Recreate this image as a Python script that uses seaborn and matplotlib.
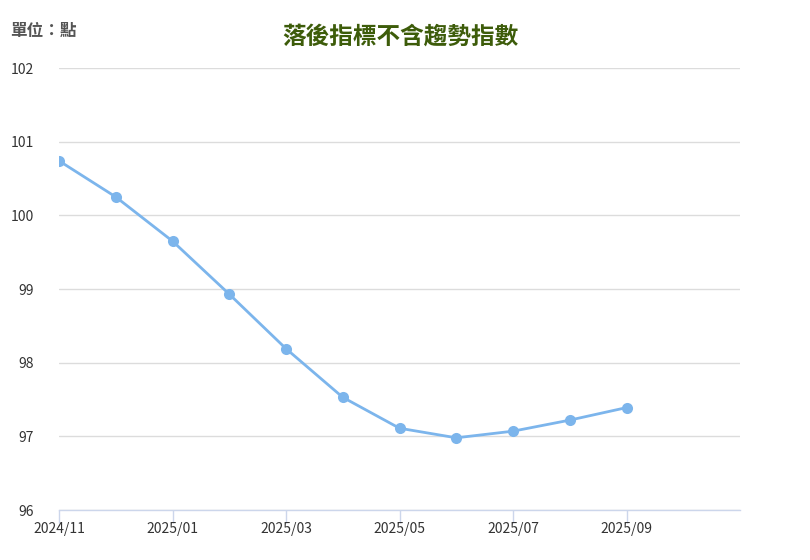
import numpy as np
import pandas as pd
import matplotlib
matplotlib.use("Agg")
import matplotlib.pyplot as plt
import seaborn as sns

# monthly values, 2024/11 .. 2025/09
months = ["2024/11", "2024/12", "2025/01", "2025/02", "2025/03", "2025/04",
          "2025/05", "2025/06", "2025/07", "2025/08", "2025/09"]
values = [100.74, 100.25, 99.65, 98.93, 98.19, 97.53,
          97.11, 96.98, 97.07, 97.22, 97.39]
tick_labels = ["2024/11", "2025/01", "2025/03", "2025/05", "2025/07", "2025/09"]
y_ticks = [96, 97, 98, 99, 100, 101, 102]

df = pd.DataFrame({"month": months, "value": values})
df["idx"] = range(len(df))

sns.set_theme(style="white")
plt.rcParams['font.family'] = ['Noto Sans CJK TC', 'DejaVu Sans']

fig = plt.figure(figsize=(8.1, 5.6), dpi=100)
ax = fig.add_axes([59 / 810, 1 - 510 / 560, (740 - 59) / 810, (510 - 68) / 560])

sns.lineplot(data=df, x="idx", y="value", ax=ax, color="#7cb5ec", linewidth=2,
             marker="o", markersize=8, markeredgewidth=0, markerfacecolor="#7cb5ec")

ax.set_xlim(0, 12)
ax.set_ylim(96, 102)
ax.set_yticks(y_ticks)
ax.set_yticklabels([str(v) for v in y_ticks], fontsize=10, color="#333333")
ax.set_xticks([months.index(m) for m in tick_labels])
ax.set_xticklabels(tick_labels, fontsize=10, color="#333333")
ax.set_xlabel("")
ax.set_ylabel("")

ax.grid(axis="y", color="#dcdcdc", linewidth=1)
ax.set_axisbelow(True)
for s in ["top", "right", "left"]:
    ax.spines[s].set_visible(False)
ax.spines["bottom"].set_color("#ccd6eb")
ax.spines["bottom"].set_linewidth(1)
ax.tick_params(axis="x", bottom=True, length=9, width=1, color="#ccd6eb",
               direction="out", pad=0)
ax.tick_params(axis="y", left=False, length=0, pad=18)

fig.text(0.494, 0.935, "落後指標不含趨勢指數", ha="center", va="center",
         fontsize=17, fontweight="bold", color="#3d5c0a")
fig.text(0.012, 0.945, "單位：點", ha="left", va="center",
         fontsize=12, fontweight="bold", color="#555555")

fig.savefig("out.png", dpi=100, facecolor="white")
